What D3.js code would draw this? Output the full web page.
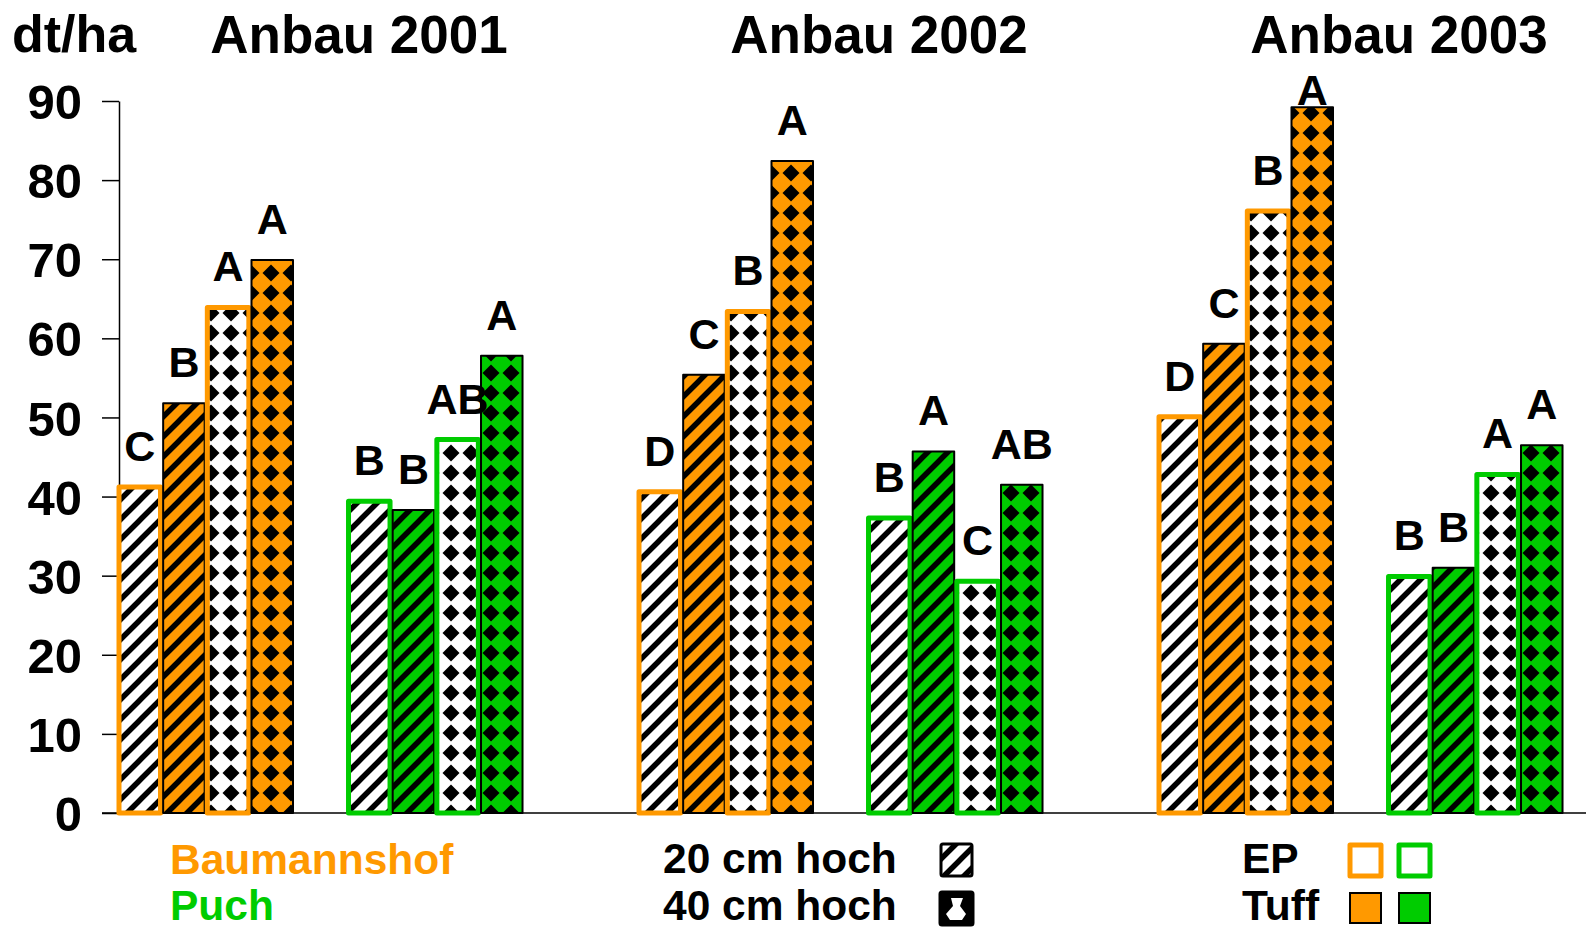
<!DOCTYPE html>
<html lang="de">
<head>
<meta charset="utf-8">
<title>Anbau 2001-2003</title>
<script src="https://cdn.jsdelivr.net/npm/d3@7"></script>
<style>
  body { margin: 0; background: #fff; }
  svg text { font-family: "Liberation Sans", Arial, sans-serif; font-weight: bold; }
</style>
</head>
<body>
<svg id="chart"></svg>
<script>
// values (dt/ha)
var years = ["Anbau 2001", "Anbau 2002", "Anbau 2003"];
var sites = ["Baumannshof", "Puch"];
var treatments = ["EP 20 cm", "Tuff 20 cm", "EP 40 cm", "Tuff 40 cm"];
var baumannshof = [[41.2, 51.8, 63.9, 69.9], [40.6, 55.4, 63.4, 82.4], [50.1, 59.3, 76.1, 89.2]];
var puch = [[39.4, 38.3, 47.2, 57.8], [37.3, 45.7, 29.3, 41.5], [29.9, 31.0, 42.8, 46.5]];
var lettersBaumannshof = [["C", "B", "A", "A"], ["D", "C", "B", "A"], ["D", "C", "B", "A"]];
var lettersPuch = [["B", "B", "AB", "A"], ["B", "A", "C", "AB"], ["B", "B", "A", "A"]];
var yTicks = [0, 10, 20, 30, 40, 50, 60, 70, 80, 90];

var W = 1588, H = 930;
var orange = "#FF9900", green = "#00CC00";
var siteColor = { "Baumannshof": orange, "Puch": green };

var svg = d3.select("#chart").attr("width", W).attr("height", H);

// patterns: diagonal hatch (20 cm) and diamonds (40 cm)
var defs = svg.append("defs");
defs.append("pattern")
    .attr("id", "hatch").attr("patternUnits", "userSpaceOnUse")
    .attr("width", 20).attr("height", 20)
  .append("path")
    .attr("d", "M-5,5 L5,-5 M0,20 L20,0 M15,25 L25,15")
    .attr("stroke", "#000").attr("stroke-width", 5.5);
defs.append("pattern")
    .attr("id", "diamond").attr("patternUnits", "userSpaceOnUse")
    .attr("width", 20).attr("height", 20).attr("x", 1).attr("y", 3)
  .append("path")
    .attr("d", "M10,1.5 L18.5,10 L10,18.5 L1.5,10Z")
    .attr("fill", "#000");

// scales
var y = d3.scaleLinear().domain([0, 90]).range([813, 101]);
var xYear = d3.scaleBand().domain(years).range([119, 119 + 3 * 520]);
var xSite = d3.scaleBand().domain(sites).range([0, 403.5]).paddingInner(0.242);
var xBar = d3.scaleBand().domain(treatments).range([0, 174]).paddingInner(0.06);

// axes
svg.append("line")
    .attr("x1", 102).attr("x2", 1586)
    .attr("y1", y(0)).attr("y2", y(0))
    .attr("stroke", "#000").attr("stroke-width", 1.5);

var yAxis = svg.append("g")
    .attr("transform", "translate(119,0)")
    .call(d3.axisLeft(y).tickValues(yTicks).tickSize(17).tickPadding(20).tickSizeOuter(0));
yAxis.select(".domain").attr("stroke", "#000").attr("stroke-width", 1.5);
yAxis.selectAll(".tick line").attr("stroke", "#000").attr("stroke-width", 1.5);
yAxis.selectAll(".tick text")
    .attr("font-size", 49).attr("font-family", "Liberation Sans, Arial, sans-serif")
    .attr("font-weight", "bold").attr("fill", "#000").attr("dy", "0.36em");

svg.append("text").attr("x", 12).attr("y", 52).attr("font-size", 52).text("dt/ha");

// titles
svg.selectAll(".title").data(years).enter().append("text")
    .attr("class", "title")
    .attr("x", function(d) { return xYear(d) + 240; })
    .attr("y", 53)
    .attr("text-anchor", "middle")
    .attr("font-size", 53)
    .text(function(d) { return d; });

// build bar records
var bars = [];
years.forEach(function(yr, i) {
  sites.forEach(function(site) {
    var vals = site === "Baumannshof" ? baumannshof[i] : puch[i];
    var lets = site === "Baumannshof" ? lettersBaumannshof[i] : lettersPuch[i];
    treatments.forEach(function(t, j) {
      bars.push({ year: yr, site: site, treat: t, value: vals[j], letter: lets[j] });
    });
  });
});

function barX(d) { return xYear(d.year) + xSite(d.site) + xBar(d.treat); }
function isEP(d) { return d.treat.indexOf("EP") === 0; }

var g = svg.selectAll(".bar").data(bars).enter().append("g").attr("class", "bar");
g.append("rect")
    .attr("x", barX).attr("y", function(d) { return y(d.value); })
    .attr("width", xBar.bandwidth())
    .attr("height", function(d) { return y(0) - y(d.value); })
    .attr("fill", function(d) { return isEP(d) ? "#fff" : siteColor[d.site]; });
g.append("rect")
    .attr("x", barX).attr("y", function(d) { return y(d.value); })
    .attr("width", xBar.bandwidth())
    .attr("height", function(d) { return y(0) - y(d.value); })
    .attr("fill", function(d) { return d.treat.indexOf("20") > 0 ? "url(#hatch)" : "url(#diamond)"; })
    .attr("stroke", function(d) { return isEP(d) ? siteColor[d.site] : "#000"; })
    .attr("stroke-width", function(d) { return isEP(d) ? 5 : 2; })
    .attr("stroke-linejoin", "round");

// significance letters
svg.selectAll(".letter").data(bars).enter().append("text")
    .attr("class", "letter")
    .attr("x", function(d) { return barX(d) + xBar.bandwidth() / 2; })
    .attr("y", function(d) { return Math.max(y(d.value) - 26, y(90) + 4); })
    .attr("text-anchor", "middle")
    .attr("font-size", 43)
    .text(function(d) { return d.letter; });

// legend: sites
svg.append("text").attr("x", 170).attr("y", 874).attr("font-size", 42.5)
    .attr("fill", orange).text(sites[0]);
svg.append("text").attr("x", 170).attr("y", 920).attr("font-size", 42.5)
    .attr("fill", green).text(sites[1]);

// legend: heights
svg.append("text").attr("x", 663).attr("y", 873).attr("font-size", 42.5).text("20 cm hoch");
svg.append("text").attr("x", 663).attr("y", 920).attr("font-size", 42.5).text("40 cm hoch");
svg.append("rect").attr("x", 941).attr("y", 844).attr("width", 31).attr("height", 32)
    .attr("fill", "#fff").attr("stroke", "#000").attr("stroke-width", 3).attr("rx", 2);
svg.append("rect").attr("x", 941).attr("y", 844).attr("width", 31).attr("height", 32)
    .attr("fill", "url(#hatch)");
svg.append("rect").attr("x", 940).attr("y", 892).attr("width", 33).attr("height", 33)
    .attr("fill", "#000").attr("stroke", "#000").attr("stroke-width", 3).attr("rx", 2);
svg.append("path")
    .attr("d", "M951,898 L963,898 L960,906 L966,914 L962,920 L950,920 L946,914 L953,906Z")
    .attr("fill", "#fff");

// legend: EP / Tuff
svg.append("text").attr("x", 1242).attr("y", 873).attr("font-size", 42.5).text("EP");
svg.append("text").attr("x", 1242).attr("y", 920).attr("font-size", 42.5).text("Tuff");
[orange, green].forEach(function(c, i) {
  svg.append("rect").attr("x", 1350 + i * 49).attr("y", 845).attr("width", 31).attr("height", 31)
      .attr("fill", "#fff").attr("stroke", c).attr("stroke-width", 5).attr("stroke-linejoin", "round");
  svg.append("rect").attr("x", 1350 + i * 49).attr("y", 893).attr("width", 31).attr("height", 30)
      .attr("fill", c).attr("stroke", "#000").attr("stroke-width", 2);
});
</script>
</body>
</html>
